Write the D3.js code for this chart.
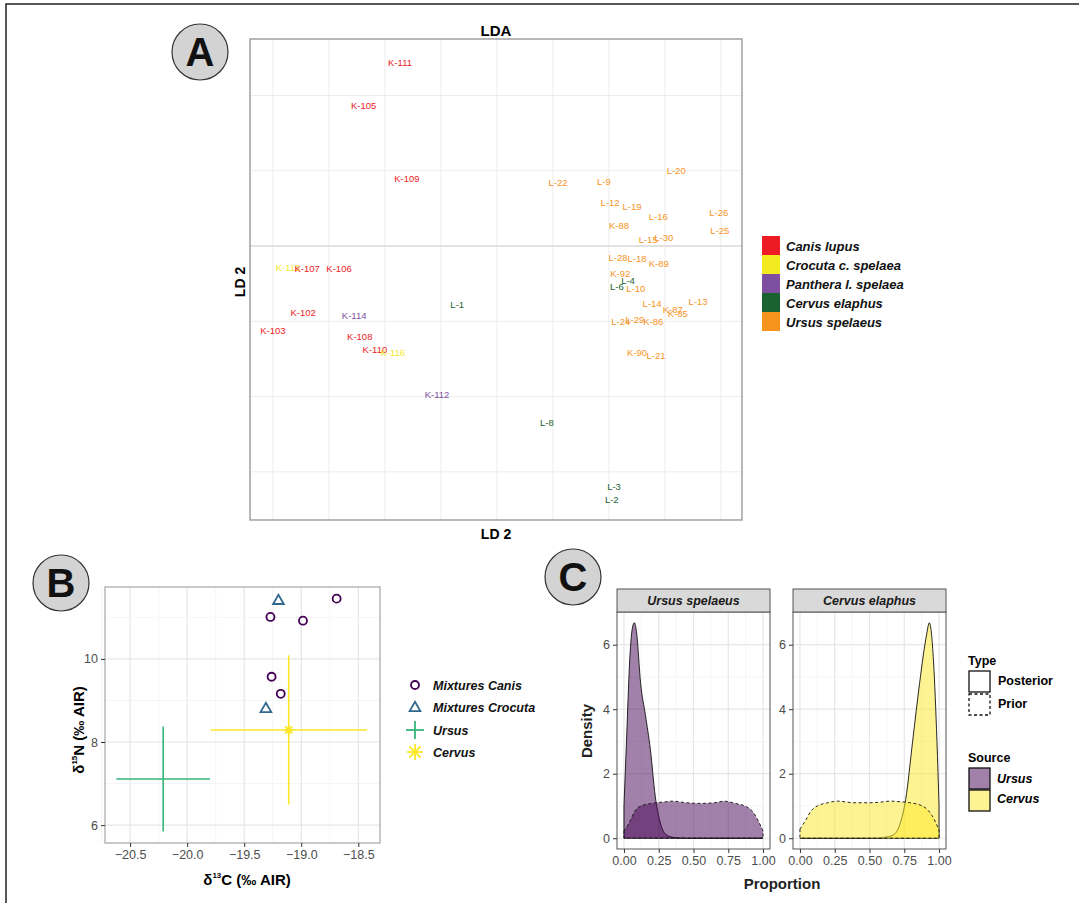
<!DOCTYPE html>
<html>
<head>
<meta charset="utf-8">
<script src="https://cdn.jsdelivr.net/npm/d3@7"></script>
<style>
  body { margin: 0; background: #fff; }
  text { font-family: "Liberation Sans", Arial, sans-serif; }
  .tick text { fill: #4d4d4d; font-size: 12.5px; }
  .tick line { stroke: #333; }
</style>
</head>
<body>
<div id="fig"></div>
<script>
// ---- Panel A: LDA labels ----
var ldaLabels = ["K-111","K-105","K-109","K-115","K-107","K-106","K-102","K-103","K-114","K-108",
  "K-110","K-116","L-1","K-112","L-8","L-3","L-2","L-20","L-22","L-9","L-12","L-19","L-16","L-26",
  "K-88","L-25","L-15","L-30","L-28","L-18","K-89","K-92","L-4","L-6","L-10","L-14","L-13","K-87",
  "K-85","L-24","L-29","K-86","K-90","L-21"];
var ldaGroup = ["Canis","Canis","Canis","Crocuta","Canis","Canis","Canis","Canis","Panthera","Canis",
  "Canis","Crocuta","Cervus","Panthera","Cervus","Cervus","Cervus","Ursus","Ursus","Ursus","Ursus","Ursus","Ursus","Ursus",
  "Ursus","Ursus","Ursus","Ursus","Ursus","Ursus","Ursus","Ursus","Cervus","Cervus","Ursus","Ursus","Ursus","Ursus",
  "Ursus","Ursus","Ursus","Ursus","Ursus","Ursus"];
var ld1 = [-1.73,-2.38,-1.61,-3.73,-3.39,-2.82,-3.46,-4.00,-2.55,-2.45,
  -2.18,-1.86,-0.71,-1.07,0.89,2.09,2.05,3.20,1.09,1.91,2.02,2.41,2.88,3.96,
  2.18,3.98,2.70,2.98,2.16,2.50,2.89,2.20,2.34,2.14,2.48,2.77,3.59,3.14,
  3.23,2.21,2.46,2.79,2.50,2.84];
var ld2 = [2.44,1.87,0.90,-0.29,-0.30,-0.30,-0.89,-1.12,-0.92,-1.20,
  -1.38,-1.42,-0.78,-1.97,-2.35,-3.20,-3.37,1.00,0.84,0.86,0.58,0.52,0.39,0.44,
  0.27,0.21,0.09,0.11,-0.15,-0.17,-0.24,-0.37,-0.46,-0.54,-0.57,-0.77,-0.74,-0.85,
  -0.90,-1.01,-0.98,-1.01,-1.42,-1.46];
var ldaGroups = ["Canis","Crocuta","Panthera","Cervus","Ursus"];
var ldaLegendNames = ["Canis lupus","Crocuta c. spelaea","Panthera l. spelaea","Cervus elaphus","Ursus spelaeus"];
var ldaColors = ["#ED1C24","#F2EA1E","#7E4FA0","#1A6330","#F7941D"];

// ---- Panel B: isotope biplot ----
var mixCanisC = [-18.69,-19.27,-18.985,-19.26,-19.18];
var mixCanisN = [11.45,11.01,10.92,9.57,9.16];
var mixCrocC = [-19.20,-19.31];
var mixCrocN = [11.42,8.82];
var sourceNames = ["Ursus","Cervus"];
var sourceMeanC = [-20.21,-19.11];
var sourceMeanN = [7.11,8.29];
var sourceSdC = [0.41,0.685];
var sourceSdN = [1.265,1.795];
var bXTicks = [-20.5,-20.0,-19.5,-19.0,-18.5];
var bYTicks = [6,8,10];

// ---- Panel C: mixing proportions ----
var ursusPostX = [0,0.02,0.04,0.06,0.075,0.09,0.12,0.155,0.19,0.225,0.26,0.3,0.35,0.4,0.45,0.7,1.0];
var ursusPostY = [1.0,3.2,5.4,6.5,6.68,6.4,4.8,3.8,2.75,1.3,0.5,0.12,0.03,0.01,0,0,0];
var ursusPriorX = [0,0.04,0.08,0.12,0.2,0.3,0.35,0.45,0.55,0.65,0.72,0.8,0.88,0.93,0.97,1.0];
var ursusPriorY = [0.22,0.5,0.85,1.0,1.08,1.13,1.15,1.1,1.08,1.1,1.15,1.08,0.98,0.8,0.5,0.22];
var cervusPostX = [0,0.3,0.55,0.6,0.67,0.72,0.76,0.81,0.86,0.91,0.93,0.96,0.985,1.0];
var cervusPostY = [0,0,0,0.02,0.1,0.45,1.2,3.0,4.8,6.3,6.68,5.5,3.0,1.0];
var cervusPriorX = [0,0.04,0.08,0.125,0.2,0.27,0.39,0.5,0.58,0.65,0.72,0.79,0.88,0.95,1.0];
var cervusPriorY = [0.28,0.55,0.85,1.0,1.1,1.15,1.1,1.1,1.12,1.15,1.13,1.1,1.0,0.7,0.25];
var propTicks = [0,0.25,0.5,0.75,1];
var densTicks = [0,2,4,6];

var svg = d3.select("#fig").append("svg").attr("width", 1079).attr("height", 903);

// outer frame
svg.append("rect").attr("x", 6).attr("y", 4).attr("width", 1100).attr("height", 1000)
  .attr("fill", "none").attr("stroke", "#111").attr("stroke-width", 1.4);

var badge = function (cx, cy, letter) {
  svg.append("circle").attr("cx", cx).attr("cy", cy).attr("r", 28)
    .attr("fill", "#d3d3d3").attr("stroke", "#333").attr("stroke-width", 1.2);
  svg.append("text").attr("x", cx).attr("y", cy + 14).attr("text-anchor", "middle")
    .attr("font-size", 40).attr("font-weight", "bold").attr("fill", "#111").text(letter);
};

// ================= Panel A =================
var xA = d3.scaleLinear().domain([-4.41, 4.375]).range([250, 742]);
var yA = d3.scaleLinear().domain([-3.64, 2.75]).range([520, 39]);
var gA = svg.append("g");
gA.append("rect").attr("x", 250).attr("y", 39).attr("width", 492).attr("height", 481).attr("fill", "#fff");
d3.range(-4, 5).forEach(function (v) {
  gA.append("line").attr("x1", xA(v)).attr("x2", xA(v)).attr("y1", 39).attr("y2", 520)
    .attr("stroke", "#ececec").attr("stroke-width", 1);
});
[-3, -2, -1, 0, 1, 2].forEach(function (v) {
  gA.append("line").attr("y1", yA(v)).attr("y2", yA(v)).attr("x1", 250).attr("x2", 742)
    .attr("stroke", v === 0 ? "#e2e2e2" : "#ececec").attr("stroke-width", v === 0 ? 1.8 : 1);
});
gA.selectAll(".lab").data(ldaLabels).enter().append("text")
  .attr("x", function (d, i) { return xA(ld1[i]); })
  .attr("y", function (d, i) { return yA(ld2[i]); })
  .attr("dy", "0.35em").attr("text-anchor", "middle").attr("font-size", 9.5)
  .attr("fill", function (d, i) { return ldaColors[ldaGroups.indexOf(ldaGroup[i])]; })
  .text(function (d) { return d; });
gA.append("rect").attr("x", 250).attr("y", 39).attr("width", 492).attr("height", 481)
  .attr("fill", "none").attr("stroke", "#9a9a9a").attr("stroke-width", 1.4);
gA.append("text").attr("x", 496).attr("y", 36).attr("text-anchor", "middle")
  .attr("font-size", 15).attr("font-weight", "bold").text("LDA");
gA.append("text").attr("x", 496).attr("y", 539).attr("text-anchor", "middle")
  .attr("font-size", 14).attr("font-weight", "bold").text("LD 2");
gA.append("text").attr("transform", "translate(245,282) rotate(-90)").attr("text-anchor", "middle")
  .attr("font-size", 14).attr("font-weight", "bold").text("LD 2");
ldaLegendNames.forEach(function (n, i) {
  gA.append("rect").attr("x", 762).attr("y", 236 + i * 19).attr("width", 18).attr("height", 19)
    .attr("fill", ldaColors[i]);
  gA.append("text").attr("x", 786).attr("y", 250.5 + i * 19).attr("font-size", 13)
    .attr("font-weight", "bold").attr("font-style", "italic").attr("fill", "#111").text(n);
});
badge(200, 52, "A");

// ================= Panel B =================
var xB = d3.scaleLinear().domain([-20.72, -18.31]).range([105, 380]);
var yB = d3.scaleLinear().domain([5.57, 11.73]).range([843, 587]);
var gB = svg.append("g");
d3.range(-20.75, -18.3, 0.25).forEach(function (v) {
  var major = Math.abs(v * 2 - Math.round(v * 2)) < 1e-6;
  gB.append("line").attr("x1", xB(v)).attr("x2", xB(v)).attr("y1", 587).attr("y2", 843)
    .attr("stroke", major ? "#e6e6e6" : "#f2f2f2").attr("stroke-width", major ? 1.2 : 0.8);
});
d3.range(6, 12, 1).forEach(function (v) {
  var major = v % 2 === 0;
  gB.append("line").attr("y1", yB(v)).attr("y2", yB(v)).attr("x1", 105).attr("x2", 380)
    .attr("stroke", major ? "#e6e6e6" : "#f2f2f2").attr("stroke-width", major ? 1.2 : 0.8);
});
var srcColors = ["#35B779", "#FDE725"];
sourceNames.forEach(function (s, i) {
  gB.append("line").attr("x1", xB(sourceMeanC[i] - sourceSdC[i])).attr("x2", xB(sourceMeanC[i] + sourceSdC[i]))
    .attr("y1", yB(sourceMeanN[i])).attr("y2", yB(sourceMeanN[i]))
    .attr("stroke", srcColors[i]).attr("stroke-width", 1.6);
  gB.append("line").attr("y1", yB(sourceMeanN[i] - sourceSdN[i])).attr("y2", yB(sourceMeanN[i] + sourceSdN[i]))
    .attr("x1", xB(sourceMeanC[i])).attr("x2", xB(sourceMeanC[i]))
    .attr("stroke", srcColors[i]).attr("stroke-width", 1.6);
});
var asterisk = function (g, cx, cy, r, col) {
  [0, 45, 90, 135].forEach(function (a) {
    var dx = r * Math.cos(a * Math.PI / 180), dy = r * Math.sin(a * Math.PI / 180);
    g.append("line").attr("x1", cx - dx).attr("x2", cx + dx).attr("y1", cy - dy).attr("y2", cy + dy)
      .attr("stroke", col).attr("stroke-width", 1.8);
  });
};
asterisk(gB, xB(sourceMeanC[1]), yB(sourceMeanN[1]), 5, srcColors[1]);
gB.selectAll(".canis").data(mixCanisC).enter().append("circle")
  .attr("cx", function (d) { return xB(d); })
  .attr("cy", function (d, i) { return yB(mixCanisN[i]); })
  .attr("r", 4).attr("fill", "none").attr("stroke", "#440154").attr("stroke-width", 1.8);
var tri = d3.symbol().type(d3.symbolTriangle).size(50);
gB.selectAll(".croc").data(mixCrocC).enter().append("path")
  .attr("d", tri)
  .attr("transform", function (d, i) { return "translate(" + xB(d) + "," + (yB(mixCrocN[i]) + 1) + ")"; })
  .attr("fill", "none").attr("stroke", "#31688E").attr("stroke-width", 1.8);
gB.append("rect").attr("x", 105).attr("y", 587).attr("width", 275).attr("height", 256)
  .attr("fill", "none").attr("stroke", "#a6a6a6").attr("stroke-width", 1.2);
gB.append("g").attr("transform", "translate(0,843)")
  .call(d3.axisBottom(xB).tickValues(bXTicks).tickSize(4).tickFormat(d3.format(".1f")))
  .call(function (g) { g.select(".domain").remove(); });
gB.append("g").attr("transform", "translate(105,0)")
  .call(d3.axisLeft(yB).tickValues(bYTicks).tickSize(4).tickFormat(d3.format("d")))
  .call(function (g) { g.select(".domain").remove(); });
gB.selectAll(".tick text").attr("font-size", 12.5);
var xTitle = gB.append("text").attr("x", 247).attr("y", 885).attr("text-anchor", "middle")
  .attr("font-size", 15).attr("font-weight", "bold");
xTitle.append("tspan").text("δ");
xTitle.append("tspan").attr("font-size", 8).attr("dy", -7).text("13");
xTitle.append("tspan").attr("dy", 7).text("C (‰ AIR)");
var yTitle = gB.append("text").attr("transform", "translate(84,730) rotate(-90)").attr("text-anchor", "middle")
  .attr("font-size", 15).attr("font-weight", "bold");
yTitle.append("tspan").text("δ");
yTitle.append("tspan").attr("font-size", 8).attr("dy", -7).text("15");
yTitle.append("tspan").attr("dy", 7).text("N (‰ AIR)");
// legend B
var legB = ["Mixtures Canis", "Mixtures Crocuta", "Ursus", "Cervus"];
var legBy = [685, 707, 730, 752];
legB.forEach(function (n, i) {
  gB.append("text").attr("x", 433).attr("y", legBy[i] + 4.5).attr("font-size", 12.5)
    .attr("font-weight", "bold").attr("font-style", "italic").attr("fill", "#111").text(n);
});
gB.append("circle").attr("cx", 415).attr("cy", legBy[0]).attr("r", 4)
  .attr("fill", "none").attr("stroke", "#440154").attr("stroke-width", 1.8);
gB.append("path").attr("d", tri).attr("transform", "translate(415," + (legBy[1] + 1) + ")")
  .attr("fill", "none").attr("stroke", "#31688E").attr("stroke-width", 1.8);
gB.append("line").attr("x1", 406).attr("x2", 424).attr("y1", legBy[2]).attr("y2", legBy[2])
  .attr("stroke", srcColors[0]).attr("stroke-width", 1.8);
gB.append("line").attr("x1", 415).attr("x2", 415).attr("y1", legBy[2] - 9).attr("y2", legBy[2] + 9)
  .attr("stroke", srcColors[0]).attr("stroke-width", 1.8);
asterisk(gB, 415, legBy[3], 8, srcColors[1]);
badge(61, 583, "B");

// ================= Panel C =================
var yC = d3.scaleLinear().domain([-0.334, 7.014]).range([849, 612]);
var facets = [
  { title: "Ursus spelaeus", x0: 617, post: [ursusPostX, ursusPostY], prior: [ursusPriorX, ursusPriorY], fill: "#440154" },
  { title: "Cervus elaphus", x0: 793, post: [cervusPostX, cervusPostY], prior: [cervusPriorX, cervusPriorY], fill: "#FDE725" }
];
facets.forEach(function (f) {
  var xC = d3.scaleLinear().domain([-0.05, 1.05]).range([f.x0, f.x0 + 153]);
  var g = svg.append("g");
  g.append("rect").attr("x", f.x0).attr("y", 612).attr("width", 153).attr("height", 237).attr("fill", "#fff");
  d3.range(0, 1.01, 0.125).forEach(function (v) {
    var major = Math.round(v * 8) % 2 === 0;
    g.append("line").attr("x1", xC(v)).attr("x2", xC(v)).attr("y1", 612).attr("y2", 849)
      .attr("stroke", major ? "#e6e6e6" : "#f2f2f2").attr("stroke-width", major ? 1.2 : 0.8);
  });
  d3.range(0, 8, 1).forEach(function (v) {
    var major = v % 2 === 0;
    g.append("line").attr("y1", yC(v)).attr("y2", yC(v)).attr("x1", f.x0).attr("x2", f.x0 + 153)
      .attr("stroke", major ? "#e6e6e6" : "#f2f2f2").attr("stroke-width", major ? 1.2 : 0.8);
  });
  var area = d3.area().curve(d3.curveMonotoneX)
    .x(function (d) { return xC(d[0]); }).y0(yC(0)).y1(function (d) { return yC(d[1]); });
  [["post", null], ["prior", "3,2.5"]].forEach(function (t) {
    var xs = f[t[0]][0], ys = f[t[0]][1];
    var pts = xs.map(function (x, i) { return [x, ys[i]]; });
    g.append("path").attr("d", area(pts) + "Z").attr("fill", f.fill).attr("fill-opacity", 0.5)
      .attr("stroke", "#111").attr("stroke-width", 0.9)
      .attr("stroke-dasharray", t[1]);
  });
  g.append("rect").attr("x", f.x0).attr("y", 612).attr("width", 153).attr("height", 237)
    .attr("fill", "none").attr("stroke", "#555").attr("stroke-width", 1);
  g.append("rect").attr("x", f.x0).attr("y", 589).attr("width", 153).attr("height", 23)
    .attr("fill", "#d9d9d9").attr("stroke", "#555").attr("stroke-width", 1);
  g.append("text").attr("x", f.x0 + 76.5).attr("y", 605).attr("text-anchor", "middle")
    .attr("font-size", 12.5).attr("font-weight", "bold").attr("font-style", "italic").attr("fill", "#1a1a1a")
    .text(f.title);
  g.append("g").attr("transform", "translate(0,849)")
    .call(d3.axisBottom(xC).tickValues(propTicks).tickSize(4).tickFormat(d3.format(".2f")))
    .call(function (a) { a.select(".domain").remove(); });
  g.append("g").attr("transform", "translate(" + f.x0 + ",0)")
    .call(d3.axisLeft(yC).tickValues(densTicks).tickSize(4))
    .call(function (a) { a.select(".domain").remove(); });
  g.selectAll(".tick text").attr("font-size", 12.5);
});
svg.append("text").attr("x", 782).attr("y", 889).attr("text-anchor", "middle")
  .attr("font-size", 15).attr("font-weight", "bold").attr("fill", "#222").text("Proportion");
svg.append("text").attr("transform", "translate(592,731) rotate(-90)").attr("text-anchor", "middle")
  .attr("font-size", 15).attr("font-weight", "bold").attr("fill", "#222").text("Density");
// legend C
var gL = svg.append("g");
gL.append("text").attr("x", 968).attr("y", 665).attr("font-size", 12.5).attr("font-weight", "bold").text("Type");
gL.append("rect").attr("x", 969).attr("y", 671).attr("width", 21).attr("height", 21)
  .attr("fill", "#fff").attr("stroke", "#111").attr("stroke-width", 1.3);
gL.append("rect").attr("x", 969).attr("y", 694).attr("width", 21).attr("height", 21)
  .attr("fill", "#fff").attr("stroke", "#111").attr("stroke-width", 1.3).attr("stroke-dasharray", "3,2.5");
gL.append("text").attr("x", 998).attr("y", 685).attr("font-size", 12.5).attr("font-weight", "bold").text("Posterior");
gL.append("text").attr("x", 998).attr("y", 708).attr("font-size", 12.5).attr("font-weight", "bold").text("Prior");
gL.append("text").attr("x", 968).attr("y", 762).attr("font-size", 12.5).attr("font-weight", "bold").text("Source");
["Ursus", "Cervus"].forEach(function (n, i) {
  gL.append("rect").attr("x", 969).attr("y", 768 + i * 22).attr("width", 21).attr("height", 21)
    .attr("fill", facets[i].fill).attr("fill-opacity", 0.5).attr("stroke", "#111").attr("stroke-width", 1.3);
  gL.append("text").attr("x", 997).attr("y", 783 + i * 20).attr("font-size", 12.5)
    .attr("font-weight", "bold").attr("font-style", "italic").text(n);
});
badge(573, 577, "C");
</script>
</body>
</html>
